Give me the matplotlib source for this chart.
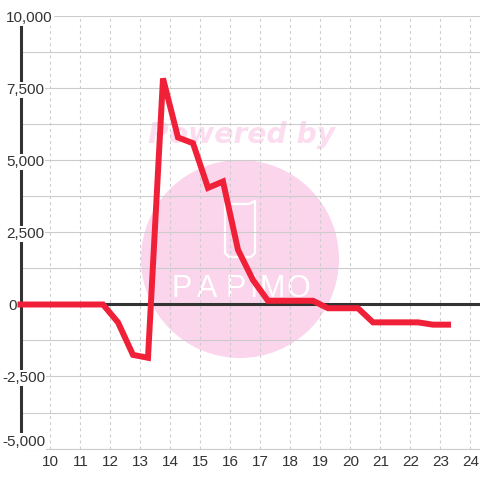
import matplotlib
matplotlib.use('Agg')
import matplotlib.pyplot as plt
from matplotlib.lines import Line2D
from matplotlib.patches import Circle

plt.rcParams['font.family'] = ['Liberation Sans', 'DejaVu Sans']

# 값
hours = [9.0, 9.75, 10.25, 10.75, 11.25, 11.75, 12.25, 12.75, 13.25, 13.75, 14.25, 14.75,
         15.25, 15.75, 16.25, 16.75, 17.25, 17.75, 18.25, 18.75, 19.25, 19.75, 20.25,
         20.75, 21.25, 21.75, 22.25, 22.75, 23.25]
values = [0, 0, 0, 0, 0, 0, -620, -1750, -1850, 7850, 5800, 5600,
          4050, 4270, 1900, 850, 130, 130, 130, 130, -130, -130, -130,
          -620, -620, -620, -620, -700, -700]
x_ticks = list(range(10, 25))
y_major = [10000, 7500, 5000, 2500, 0, -2500, -5000]
y_major_labels = ['10,000', '7,500', '5,000', '2,500', '0', '-2,500', '-5,000']
y_minor = [8750, 6250, 3750, 1250, -1250, -3750]
logo_letters = ['P', 'A', 'P', 'I', 'M', 'O']
logo_x = [182, 207, 236, 253, 272, 298]

TEXT = '#333333'
GRID = '#cccccc'
PINK = '#fbd5ec'

fig = plt.figure(figsize=(4.8, 4.8), dpi=100)
ax = fig.add_axes([20.5 / 480, 1 - 448.5 / 480, 459.5 / 480, 432 / 480])
ax.set_xlim(9, 24.317)
ax.set_ylim(-5000, 10000)


# 워터마크 (픽셀 좌표)
def fx(v):
    return v / 480


def fy(v):
    return 1 - v / 480


ax.set_zorder(2)
ax.patch.set_alpha(0)
fig.add_artist(Circle((fx(240), fy(259)), 99 / 480, transform=fig.transFigure,
                      facecolor=PINK, edgecolor='none', zorder=0))
fig.text(fx(242), fy(135), 'Powered by', color='#fcdcef', fontsize=20.3, fontweight='bold',
         fontstyle='italic', family='DejaVu Sans', ha='center', va='center', zorder=0)
glass_x = [225, 225, 229, 251, 255, 255, 249, 225]
glass_y = [204, 253, 257, 257, 253, 201, 204, 204]
fig.add_artist(Line2D([fx(v) for v in glass_x], [fy(v) for v in glass_y],
                      transform=fig.transFigure, color='white', linewidth=1.6,
                      solid_joinstyle='round', zorder=0))
for letter, lx in zip(logo_letters, logo_x):
    fig.text(fx(lx), fy(289), letter, color='white', fontsize=22,
             family='Liberation Sans', ha='center', va='center', zorder=0)

# 격자
ax.set_xticks(x_ticks)
ax.set_yticks(y_major)
ax.set_yticks(y_minor, minor=True)
ax.set_yticklabels([])
ax.tick_params(axis='both', which='both', length=0)
ax.tick_params(axis='x', labelsize=11, labelcolor=TEXT, pad=4.5)
ax.grid(True, axis='y', which='both', color=GRID, linewidth=0.8, zorder=1)
ax.grid(True, axis='x', which='major', color=GRID, linewidth=0.8, linestyle=(0, (2.5, 3)), zorder=1)
ax.set_axisbelow(True)

for side in ['top', 'right']:
    ax.spines[side].set_visible(False)
ax.spines['bottom'].set_color(GRID)
ax.spines['bottom'].set_linewidth(0.8)
ax.spines['left'].set_color(TEXT)
ax.spines['left'].set_linewidth(2.2)
ax.spines['left'].set_bounds(-4580, 9720)
ax.spines['left'].set_zorder(2)

ax.axhline(0, color=TEXT, linewidth=2.2, zorder=3)
ax.plot(hours, values, color='#f02038', linewidth=4.3, solid_joinstyle='miter',
        solid_capstyle='projecting', clip_on=False, zorder=4)

# y축 라벨 (흰 배경이 축선을 가림), 맨 아래 라벨만 위로 올라가 있음
for v, lab in zip(y_major, y_major_labels):
    left = 2 if lab.startswith('-') else (8 if lab == '0' else 6)
    dy = 5 if v == -5000 else -1
    ax.annotate(lab, xy=(0, v), xycoords=ax.get_yaxis_transform(),
                xytext=((left - 20.5) * 0.72, dy), textcoords='offset points',
                ha='left', va='center', fontsize=11, color=TEXT, zorder=3.5,
                annotation_clip=False,
                bbox=dict(facecolor='white', edgecolor='none', pad=0.8))

fig.savefig('out.png', dpi=100)
